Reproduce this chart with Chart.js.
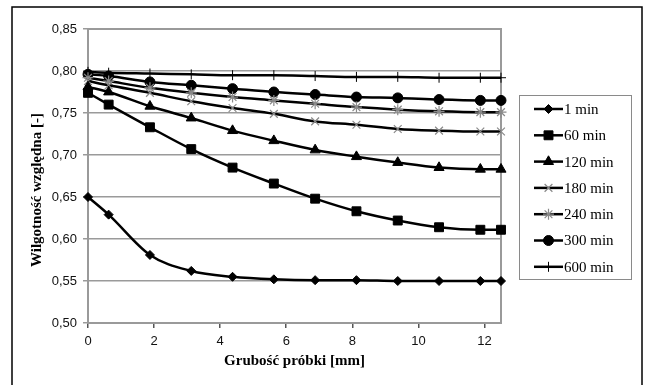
<!DOCTYPE html>
<html>
<head>
<meta charset="utf-8">
<title>Wilgotność względna</title>
<script src="https://cdn.jsdelivr.net/npm/chart.js"></script>
<style>
  body { margin: 0; background: #fff; }
  canvas { display: block; }
</style>
</head>
<body>
<canvas id="rhChart" width="648" height="385"></canvas>
<script>
// sample thickness [mm]
const thickness = [0, 0.625, 1.875, 3.125, 4.375, 5.625, 6.875, 8.125, 9.375, 10.625, 11.875, 12.5];

// relative humidity for each exposure time
const rh1 = [0.650, 0.629, 0.581, 0.562, 0.555, 0.552, 0.551, 0.551, 0.550, 0.550, 0.550, 0.550];
const rh60 = [0.774, 0.760, 0.733, 0.707, 0.685, 0.666, 0.648, 0.633, 0.622, 0.614, 0.611, 0.611];
const rh120 = [0.781, 0.775, 0.758, 0.744, 0.729, 0.717, 0.706, 0.698, 0.691, 0.685, 0.683, 0.683];
const rh180 = [0.788, 0.783, 0.774, 0.764, 0.756, 0.749, 0.740, 0.736, 0.731, 0.729, 0.728, 0.728];
const rh240 = [0.792, 0.788, 0.780, 0.774, 0.769, 0.765, 0.761, 0.757, 0.754, 0.752, 0.751, 0.751];
const rh300 = [0.796, 0.794, 0.787, 0.783, 0.779, 0.775, 0.772, 0.769, 0.768, 0.766, 0.765, 0.765];
const rh600 = [0.799, 0.798, 0.797, 0.796, 0.795, 0.795, 0.794, 0.793, 0.793, 0.792, 0.792, 0.792];

const seriesLabels = ['1 min', '60 min', '120 min', '180 min', '240 min', '300 min', '600 min'];

// axis ticks
const xTicks = [0, 2, 4, 6, 8, 10, 12];
const yTicks = [0.50, 0.55, 0.60, 0.65, 0.70, 0.75, 0.80, 0.85];

const toPoints = (vals) => vals.map((v, i) => ({ x: thickness[i], y: v }));

function series(label, vals, style, radius, markerColor, markerWidth) {
  return {
    label,
    data: toPoints(vals),
    borderColor: '#000',
    borderWidth: 2.5,
    cubicInterpolationMode: 'monotone',
    pointStyle: style,
    pointRadius: radius,
    pointHoverRadius: radius,
    pointBackgroundColor: markerColor,
    pointBorderColor: markerColor,
    pointBorderWidth: markerWidth,
    clip: false,
  };
}

const datasets = [
  series(seriesLabels[0], rh1, 'rectRot', 4.5, '#000', 1),
  series(seriesLabels[1], rh60, 'rect', 6.3, '#000', 1),
  series(seriesLabels[2], rh120, 'triangle', 5.8, '#000', 1),
  series(seriesLabels[3], rh180, 'crossRot', 5.5, '#8a8a8a', 1.2),
  series(seriesLabels[4], rh240, 'star', 5.5, '#8a8a8a', 1.2),
  series(seriesLabels[5], rh300, 'circle', 5, '#000', 1),
  series(seriesLabels[6], rh600, 'cross', 5, '#000', 1),
];

// grey frame round the plot area (top and right edges show)
const plotFrame = {
  id: 'plotFrame',
  beforeDatasetsDraw(chart) {
    const { ctx, chartArea: a } = chart;
    ctx.save();
    ctx.strokeStyle = '#9a9a9a';
    ctx.lineWidth = 2;
    ctx.strokeRect(a.left, a.top, a.right - a.left, a.bottom - a.top);
    ctx.restore();
  },
};

// outer border, y title and the boxed legend
const decorations = {
  id: 'decorations',
  afterDraw(chart) {
    const ctx = chart.ctx;
    ctx.save();

    ctx.strokeStyle = '#000';
    ctx.lineWidth = 1.5;
    ctx.strokeRect(12, 7, 630, 400);

    // y axis title
    ctx.translate(37, 190);
    ctx.rotate(-Math.PI / 2);
    ctx.font = 'bold 15px "Liberation Serif", "Times New Roman", serif';
    ctx.fillStyle = '#000';
    ctx.textAlign = 'center';
    ctx.textBaseline = 'middle';
    ctx.fillText('Wilgotność względna [-]', 0, 0);
    ctx.setTransform(1, 0, 0, 1, 0, 0);

    // legend
    ctx.strokeStyle = '#8a8a8a';
    ctx.lineWidth = 1;
    ctx.strokeRect(519.5, 95.5, 112, 184);
    ctx.font = '15px "Liberation Serif", "Times New Roman", serif';
    ctx.textAlign = 'left';
    chart.data.datasets.forEach((ds, i) => {
      const y = 109 + i * 26.3;
      ctx.strokeStyle = ds.borderColor;
      ctx.lineWidth = ds.borderWidth;
      ctx.beginPath();
      ctx.moveTo(534, y);
      ctx.lineTo(563, y);
      ctx.stroke();
      ctx.fillStyle = ds.pointBackgroundColor;
      ctx.strokeStyle = ds.pointBorderColor;
      ctx.lineWidth = ds.pointBorderWidth;
      Chart.helpers.drawPoint(ctx, {
        pointStyle: ds.pointStyle,
        radius: ds.pointRadius,
        rotation: 0,
        borderWidth: ds.pointBorderWidth,
      }, 548.5, y);
      ctx.fillStyle = '#000';
      ctx.fillText(ds.label, 564, y + 1);
    });
    ctx.restore();
  },
};

const ctx = document.getElementById('rhChart').getContext('2d');
new Chart(ctx, {
  type: 'line',
  data: { datasets },
  options: {
    responsive: false,
    animation: false,
    layout: { padding: { left: 12, right: 147, top: 29, bottom: 0 } },
    plugins: {
      legend: { display: false },
      tooltip: { enabled: false },
    },
    scales: {
      x: {
        type: 'linear',
        min: 0,
        max: 12.5,
        afterBuildTicks: (scale) => { scale.ticks = xTicks.map((v) => ({ value: v })); },
        afterFit: (scale) => { scale.height = 62; },
        ticks: {
          padding: 6,
          color: '#111',
          font: { family: '"Liberation Sans", Arial, sans-serif', size: 13 },
          maxRotation: 0,
        },
        grid: { drawOnChartArea: false, drawTicks: true, tickLength: 5, color: '#555', lineWidth: 1.5 },
        border: { color: '#555', width: 2 },
        title: {
          display: true,
          text: 'Grubość próbki [mm]',
          color: '#000',
          font: { family: '"Liberation Serif", "Times New Roman", serif', size: 15, weight: 'bold' },
          padding: { top: 4, bottom: 15 },
        },
      },
      y: {
        type: 'linear',
        min: 0.5,
        max: 0.85,
        afterBuildTicks: (scale) => { scale.ticks = yTicks.map((v) => ({ value: v })); },
        afterFit: (scale) => { scale.width = 76; },
        ticks: {
          padding: 6,
          color: '#111',
          font: { family: '"Liberation Sans", Arial, sans-serif', size: 13 },
          callback: (v) => v.toFixed(2).replace('.', ','),
        },
        grid: { color: '#9a9a9a', lineWidth: 1.5, tickLength: 5 },
        border: { color: '#555', width: 2 },
      },
    },
  },
  plugins: [plotFrame, decorations],
});
</script>
</body>
</html>
